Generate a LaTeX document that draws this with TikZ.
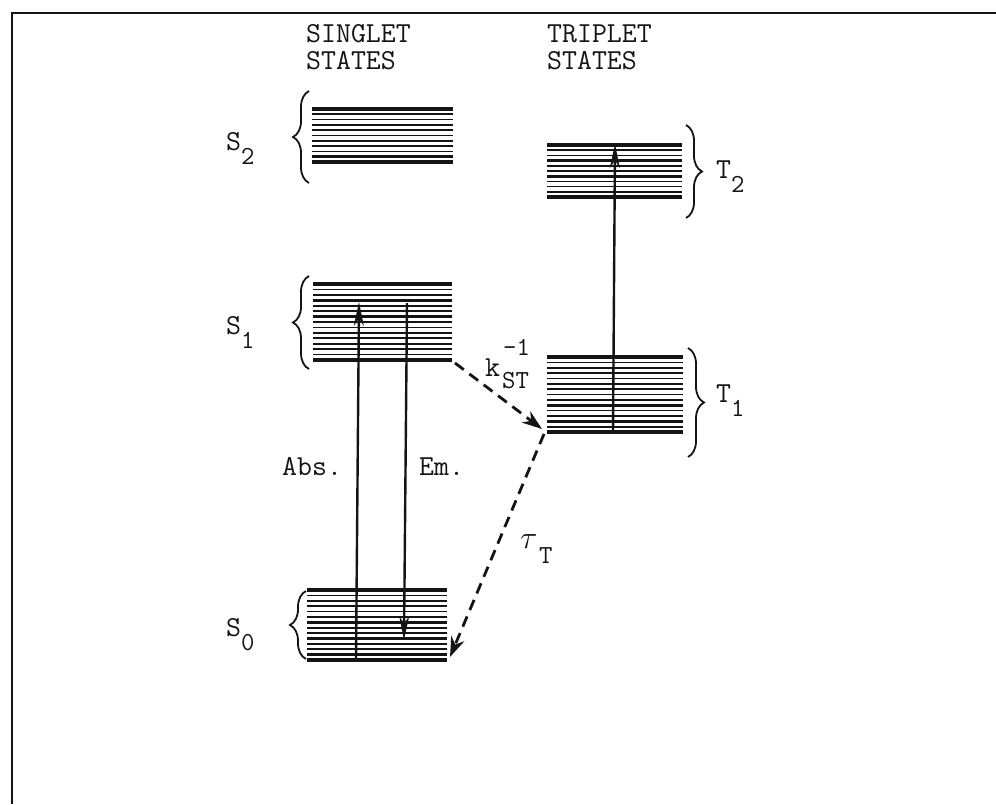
\documentclass[tikz,border=0pt]{standalone}
\usetikzlibrary{arrows.meta,decorations.pathreplacing,positioning}
\definecolor{ink}{HTML}{141414}
\newcommand\lvlname[2]{#1\raisebox{-14pt}{\fontsize{26}{26}\selectfont #2}}
\tikzset{level/.style={draw=ink,line width=1.2pt},statebrace/.style={draw=ink,line width=1.8pt,decorate,decoration={brace,amplitude=16pt}},trans/.style={draw=ink,line width=2.4pt,-{Stealth[length=24pt,width=10pt]}},nonrad/.style={draw=ink,line width=2.8pt,dash pattern=on 11pt off 7pt,-{Stealth[length=20pt,width=14pt]}},txt/.style={font=\ttfamily\fontsize{29}{27}\selectfont,inner sep=0pt,text=ink,align=left},headlbl/.style={txt,text height=18pt,text depth=0pt},subtxt/.style={font=\ttfamily\fontsize{26}{26}\selectfont,inner sep=0pt,text=ink}}

\begin{document}
\begin{tikzpicture}[x=1pt,y=-1pt]
\useasboundingbox (0,0) rectangle (996,804);
\draw[ink,line width=2pt] (996,13) -- (12,13) -- (12,804);
\node[headlbl,anchor=base west] (singlet) at (306,42) {SINGLET};
\node[headlbl,anchor=base west] (singlet2) at (306,69) {STATES};
\node[headlbl,anchor=base west] (triplet) at (547,42) {TRIPLET};
\node[headlbl,anchor=base west] (triplet2) at (547,69) {STATES};
\foreach \xa/\xb/\ya/\yb/\nl/\nm in {312/453/109/162/10/s2,313/452/284/360/14/s1,307/447/590/660/13/s0,547/682/145/197/10/t2,547/683/357/432/14/t1}{
  \foreach \i in {0,...,\nl}{
    \pgfmathsetmacro\w{(\i==0||\i==\nl)?3.4:(mod(\i,3)==0?2.6:1.7)}
    \draw[level,line width=\w pt] (\xa,{\ya+\i*(\yb-\ya)/\nl}) -- (\xb,{\ya+\i*(\yb-\ya)/\nl});
  }
  \coordinate (\nm-nw) at (\xa,\ya);\coordinate (\nm-se) at (\xb,\yb);
  \coordinate (\nm-sw) at (\xa,\yb);
}
\draw[statebrace] (309,183) -- (309,91);
\draw[statebrace] (309,369) -- (309,276);
\draw[statebrace] (306,659) -- (306,591);
\draw[statebrace] (686,125) -- (686,218);
\draw[statebrace] (688,348) -- (688,457);
\node[txt,anchor=base west] (s2lbl) at (226,150) {\lvlname{S}{2}};
\node[txt,anchor=base west] (s1lbl) at (226,334) {\lvlname{S}{1}};
\node[txt,anchor=base west] (s0lbl) at (226,636) {\lvlname{S}{0}};
\node[txt,anchor=base west] (t2lbl) at (716,178) {\lvlname{T}{2}};
\node[txt,anchor=base west] (t1lbl) at (716,402) {\lvlname{T}{1}};
\coordinate (abs-lo) at (356,661);\coordinate (abs-hi) at (359,302);
\coordinate (em-hi) at (407,303);\coordinate (em-lo) at (404,640);
\coordinate (t1-lo) at (613,433);\coordinate (t2-hi) at (615,144);
\draw[trans] (abs-lo) -- (abs-hi);
\draw[trans] (em-hi) -- (em-lo);
\draw[trans] (t1-lo) -- (t2-hi);
\draw[nonrad] ([shift={(3,3)}]s1-se) -- ([shift={(-5,-3)}]t1-sw);
\draw[nonrad] ([shift={(-3,2)}]t1-sw) -- ([shift={(3,-3)}]s0-se);
\node[txt,anchor=base west] (abslbl) at (282,475) {Abs.};
\node[txt,anchor=base west] (emlbl) at (419,475) {Em.};
\node[txt,anchor=base west] (klbl) at (485,376) {k};
\node[subtxt,anchor=base west] (kexp) at (503,355) {-1};
\node[subtxt,anchor=base west] (ksub) at (502,388) {ST};
\node[txt,anchor=base west] (taulbl) at (520,548) {\scalebox{1.3}{$\tau$}};
\node[subtxt,anchor=base west] (tausub) at (539,563) {T};
\end{tikzpicture}
\end{document}
